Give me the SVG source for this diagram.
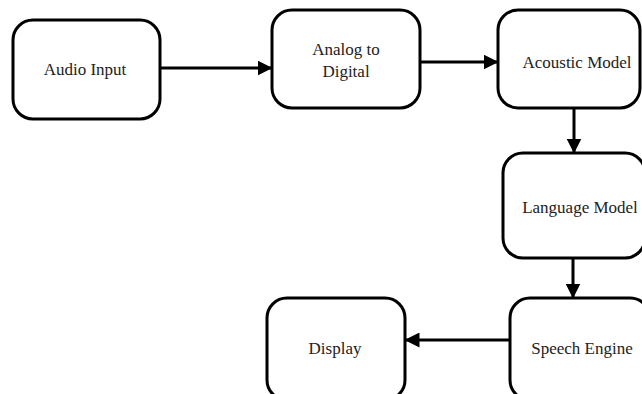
<svg xmlns="http://www.w3.org/2000/svg" width="642" height="394" viewBox="0 0 642 394">
<style>
.box{fill:#fff;stroke:#000;stroke-width:3}
.t{font-family:"Liberation Serif","Times New Roman",serif;font-size:17px;fill:#222;text-anchor:middle}
.c{stroke:#000;stroke-width:3;fill:none}
</style>
<defs>
<marker id="ah" viewBox="0 0 10 10" refX="9" refY="5" markerWidth="5" markerHeight="5" orient="auto" markerUnits="strokeWidth">
<path d="M0,0 L10,5 L0,10 z" fill="#000"/>
</marker>
</defs>
<rect width="642" height="394" fill="#fff"/>
<g id="connectors">
<line class="c" x1="160" y1="68" x2="271" y2="68" marker-end="url(#ah)"/>
<line class="c" x1="420" y1="62" x2="497" y2="62" marker-end="url(#ah)"/>
<line class="c" x1="574" y1="108" x2="574" y2="152" marker-end="url(#ah)"/>
<line class="c" x1="573" y1="258" x2="573" y2="297" marker-end="url(#ah)"/>
<line class="c" x1="510" y1="340" x2="406" y2="340" marker-end="url(#ah)"/>
</g>
<g id="audio-input">
<rect class="box" x="13" y="20" width="147" height="99" rx="20"/>
<text class="t" x="85" y="75">Audio Input</text>
</g>
<g id="analog-to-digital">
<rect class="box" x="272" y="10" width="148" height="98" rx="20"/>
<text class="t" x="346" y="55">Analog to</text>
<text class="t" x="346" y="77">Digital</text>
</g>
<g id="acoustic-model">
<rect class="box" x="498" y="10" width="142" height="98" rx="20"/>
<text class="t" x="577" y="68">Acoustic Model</text>
</g>
<g id="language-model">
<rect class="box" x="503" y="153" width="142" height="105" rx="20"/>
<text class="t" x="580" y="213">Language Model</text>
</g>
<g id="speech-engine">
<rect class="box" x="510" y="298" width="140" height="102" rx="20"/>
<text class="t" x="582" y="354">Speech Engine</text>
</g>
<g id="display">
<rect class="box" x="267" y="298" width="138" height="102" rx="20"/>
<text class="t" x="335" y="354">Display</text>
</g>
</svg>
